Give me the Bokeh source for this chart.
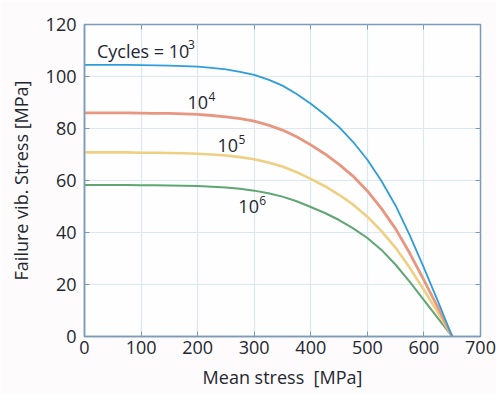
from bokeh.plotting import figure
from bokeh.models import Range1d, FixedTicker, LinearAxis, ColumnDataSource
from bokeh.core.properties import value
from bokeh.embed import file_html
from bokeh.resources import INLINE

# Mean stress [MPa] at which each curve is sampled
mean_stress = [0, 25, 50, 75, 100, 125, 150, 175, 200, 225, 250, 275, 300, 325,
               350, 375, 400, 425, 450, 475, 500, 525, 550, 575, 600, 625, 650]

# Failure vibratory stress [MPa] for each cycle count
stress_1e3 = [104.5, 104.5, 104.5, 104.5, 104.4, 104.3, 104.2, 104.0, 103.8, 103.3,
              102.7, 101.8, 100.6, 98.8, 96.5, 93.3, 89.5, 85.3, 80.5, 74.8,
              68.0, 59.8, 50.3, 38.9, 26.4, 13.4, 0.0]
stress_1e4 = [86.0, 86.0, 86.0, 86.0, 85.9, 85.8, 85.8, 85.6, 85.4, 85.0,
              84.5, 83.8, 82.8, 81.3, 79.4, 76.8, 73.7, 70.2, 66.2, 61.6,
              56.0, 49.2, 41.4, 32.0, 21.7, 11.0, 0.0]
stress_1e5 = [70.8, 70.8, 70.8, 70.8, 70.7, 70.7, 70.6, 70.5, 70.3, 70.0,
              69.6, 69.0, 68.2, 66.9, 65.4, 63.2, 60.6, 57.8, 54.5, 50.7,
              46.1, 40.5, 34.1, 26.4, 17.9, 9.1, 0.0]
stress_1e6 = [58.3, 58.3, 58.3, 58.3, 58.2, 58.2, 58.1, 58.0, 57.9, 57.6,
              57.3, 56.8, 56.1, 55.1, 53.8, 52.0, 49.8, 47.5, 44.8, 41.6,
              37.9, 33.3, 27.6, 21.0, 14.0, 7.0, 0.0]

# Curve annotations: base text, exponent, anchor point (data units)
label_base = ["Cycles = 10", "10", "10", "10"]
label_exp = ["3", "4", "5", "6"]
label_x = [22, 182, 235, 272]
label_y = [110, 90, 73.5, 50]

x_ticks = [0, 100, 200, 300, 400, 500, 600, 700]
y_ticks = [0, 20, 40, 60, 80, 100, 120]

FONT = "Open Sans"
TEXT_COLOR = "#1f2731"
FRAME_COLOR = "#7d9bb8"
GRID_COLOR = "#dbe8f1"

p = figure(width=496, height=394, output_backend="svg", toolbar_location=None,
           x_range=Range1d(0, 700), y_range=Range1d(0, 120),
           min_border_left=84, min_border_right=16,
           min_border_top=24, min_border_bottom=58)
p.background_fill_color = "#fefefe"
p.border_fill_color = "#fdfbfb"
p.outline_line_color = FRAME_COLOR
p.outline_line_width = 1.5

for ax in (p.xaxis[0], p.yaxis[0]):
    ax.axis_line_color = FRAME_COLOR
    ax.axis_line_width = 1.5
    ax.major_tick_line_color = FRAME_COLOR
    ax.major_tick_in = 5
    ax.major_tick_out = 0
    ax.minor_tick_line_color = None
    ax.major_label_text_font = FONT
    ax.major_label_text_font_size = "18px"
    ax.major_label_text_color = TEXT_COLOR
    ax.axis_label_text_font = FONT
    ax.axis_label_text_font_size = "18px"
    ax.axis_label_text_font_style = "normal"
    ax.axis_label_text_color = TEXT_COLOR

p.xaxis.ticker = FixedTicker(ticks=x_ticks)
p.yaxis.ticker = FixedTicker(ticks=y_ticks)
p.xaxis.axis_label = "Mean stress\u00a0 [MPa]"
p.yaxis.axis_label = "Failure vib. Stress [MPa]"
p.xaxis.major_label_standoff = 4
p.yaxis.major_label_standoff = 8
p.xaxis.axis_label_standoff = 8
p.yaxis.axis_label_standoff = 10

# Tick marks on the right and top edges of the frame, no labels
right = LinearAxis(ticker=FixedTicker(ticks=y_ticks))
top = LinearAxis(ticker=FixedTicker(ticks=x_ticks))
for ax in (right, top):
    ax.axis_line_color = None
    ax.major_tick_line_color = FRAME_COLOR
    ax.major_tick_in = 5
    ax.major_tick_out = 0
    ax.minor_tick_line_color = None
    ax.major_label_text_font_size = "0px"
    ax.major_label_standoff = 0
p.add_layout(right, "right")
p.add_layout(top, "above")

p.xgrid.grid_line_color = GRID_COLOR
p.ygrid.grid_line_color = GRID_COLOR
p.xgrid.grid_line_width = 1.2
p.ygrid.grid_line_width = 1.2

# Curves, drawn from lowest to highest so the upper ones sit on top
p.line(mean_stress, stress_1e6, line_color="#5fa673", line_width=2.0, line_join="round")
p.line(mean_stress, stress_1e5, line_color="#efcf82", line_width=2.6, line_join="round")
p.line(mean_stress, stress_1e4, line_color="#e8967f", line_width=2.8, line_join="round")
p.line(mean_stress, stress_1e3, line_color="#2f9ddc", line_width=1.8, line_join="round")

# Annotations: base text then a small raised exponent
src = ColumnDataSource(dict(x=label_x, y=label_y, base=label_base, exp=label_exp,
                            off=[91 if len(b) > 2 else 21 for b in label_base]))
p.text(x="x", y="y", text="base", source=src, text_font=value(FONT),
       text_font_size="18px", text_color=TEXT_COLOR,
       text_align="left", text_baseline="middle")
p.text(x="x", y="y", text="exp", source=src, text_font=value(FONT),
       text_font_size="12px", text_color=TEXT_COLOR,
       text_align="left", text_baseline="middle",
       x_offset="off", y_offset=-6)

open("out.html", "w").write(file_html(p, INLINE))
